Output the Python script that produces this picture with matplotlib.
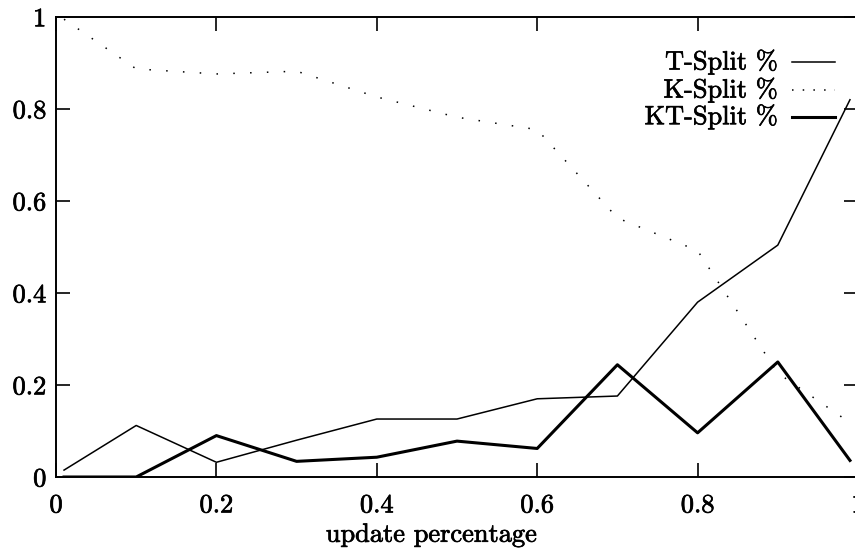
import matplotlib
matplotlib.use("Agg")
import matplotlib.pyplot as plt
import matplotlib.patheffects as pe

plt.rcParams['font.family'] = ['cmr10', 'DejaVu Serif']
plt.rcParams['axes.formatter.use_mathtext'] = True

x = [0.01, 0.1, 0.2, 0.3, 0.4, 0.5, 0.6, 0.7, 0.8, 0.9, 0.99]
t_split = [0.015, 0.112, 0.032, 0.08, 0.126, 0.126, 0.17, 0.176, 0.38, 0.504, 0.82]
k_split = [0.995, 0.887, 0.876, 0.882, 0.826, 0.782, 0.755, 0.563, 0.492, 0.226, 0.118]
kt_split = [0.0, 0.0, 0.09, 0.034, 0.043, 0.078, 0.062, 0.244, 0.096, 0.25, 0.036]

xticks = [0, 0.2, 0.4, 0.6, 0.8, 1]
xtick_labels = ["0", "0.2", "0.4", "0.6", "0.8", "1"]
yticks = [0, 0.2, 0.4, 0.6, 0.8, 1]
ytick_labels = ["0", "0.2", "0.4", "0.6", "0.8", "1"]

fs = 19
thick = [pe.withStroke(linewidth=0.5, foreground='black')]

fig = plt.figure(figsize=(8.55, 5.51), dpi=100)
ax = fig.add_axes([0.0655, 0.1343, 0.938, 0.835])

ax.plot(x, t_split, color='black', lw=1.1)
ax.plot(x, k_split, color='black', lw=1.1, linestyle=(0, (1, 10)))
ax.plot(x, kt_split, color='black', lw=2.2)

ax.set_xlim(0, 1)
ax.set_ylim(0, 1)
ax.set_xticks(xticks)
ax.set_xticklabels(xtick_labels)
ax.set_yticks(yticks)
ax.set_yticklabels(ytick_labels)
ax.tick_params(direction='in', length=10, width=1.2, labelsize=fs,
               top=True, right=True)
ax.tick_params(axis='x', pad=12)
ax.tick_params(axis='y', pad=7)
for s in ax.spines.values():
    s.set_linewidth(1.4)
for t in ax.get_xticklabels() + ax.get_yticklabels():
    t.set_path_effects(thick)

ax.set_xlabel("update percentage", fontsize=fs, path_effects=thick)
ax.xaxis.set_label_coords(0.468, -0.1)

# legend, right-aligned text like gnuplot
labels = ["T-Split %", "K-Split %", "KT-Split %"]
styles = [dict(lw=1.1), dict(lw=1.1, linestyle=(0, (1, 6))), dict(lw=2.2)]
rows = [0.902, 0.841, 0.783]
for lab, st, yy in zip(labels, styles, rows):
    ax.text(0.900, yy, lab, transform=ax.transAxes, ha='right', va='center',
            fontsize=fs, path_effects=thick)
    ax.plot([0.918, 0.971], [yy, yy], transform=ax.transAxes,
            color='black', **st)

fig.savefig("out.png", dpi=100)
